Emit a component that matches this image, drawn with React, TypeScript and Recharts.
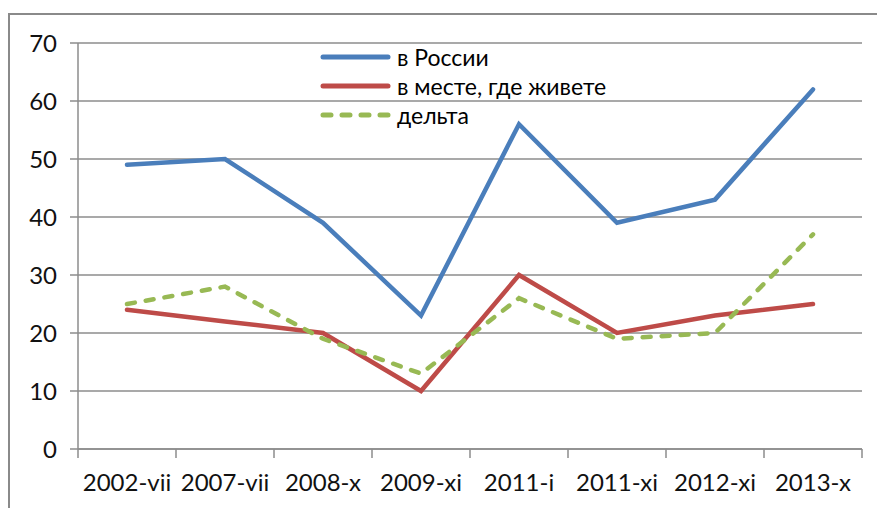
import { LineChart, Line, XAxis, YAxis, CartesianGrid } from 'recharts'

// survey waves
const periods = ['2002-vii', '2007-vii', '2008-x', '2009-xi', '2011-i', '2011-xi', '2012-xi', '2013-x']

// series values, %
const russia = [49, 50, 39, 23, 56, 39, 43, 62]
const local = [24, 22, 20, 10, 30, 20, 23, 25]
const delta = [25, 28, 19, 13, 26, 19, 20, 37]

const yTicks = [0, 10, 20, 30, 40, 50, 60, 70]

const data = periods.map((p, i) => ({
  period: p,
  russia: russia[i],
  local: local[i],
  delta: delta[i],
}))

const series = [
  { key: 'russia', name: 'в России', color: '#4a7ebb', dash: undefined },
  { key: 'local', name: 'в месте, где живете', color: '#be4b48', dash: undefined },
  { key: 'delta', name: 'дельта', color: '#98b954', dash: '8 11' },
]

const FONT = 'Lato, "Open Sans", sans-serif'
const AXIS = '#8c8c8c'
const X_TICK = 9
const X_MARGIN = 16

// excel style: tick marks sit between categories, label in the middle
const CategoryTick = (props: any) => {
  const { x, y, payload, index, visibleTicksCount } = props
  const half = payload.offset || 49
  const y1 = y - X_MARGIN - X_TICK
  const y2 = y - X_MARGIN
  const last = index === (visibleTicksCount ?? periods.length) - 1
  return (
    <g>
      <line x1={x - half} y1={y1} x2={x - half} y2={y2} stroke={AXIS} strokeWidth={1.5} />
      {last && <line x1={x + half} y1={y1} x2={x + half} y2={y2} stroke={AXIS} strokeWidth={1.5} />}
      <text x={x} y={y} dy="0.71em" textAnchor="middle" fill="#111" fontSize={24} fontFamily={FONT}>
        {payload.value}
      </text>
    </g>
  )
}

function LegendBox() {
  return (
    <div style={{ position: 'absolute', left: 319, top: 42, fontFamily: FONT, fontSize: 23, color: '#000' }}>
      {series.map(s => (
        <div key={s.key} style={{ display: 'flex', alignItems: 'center', height: 29 }}>
          <svg width={75} height={10} style={{ marginRight: 3 }}>
            <line
              x1={4}
              y1={5}
              x2={69}
              y2={5}
              stroke={s.color}
              strokeWidth={5}
              strokeLinecap="round"
              strokeDasharray={s.dash}
            />
          </svg>
          <span>{s.name}</span>
        </div>
      ))}
    </div>
  )
}

export default function App() {
  return (
    <div style={{ position: 'absolute', left: 0, top: 0, width: 877, height: 508, background: '#fff', overflow: 'hidden' }}>
      {/* outer chart frame, cut off at right and bottom */}
      <div
        style={{
          position: 'absolute',
          left: 8,
          top: 13,
          width: 900,
          height: 520,
          border: '2px solid #8a8a8a',
          boxSizing: 'border-box',
        }}
      />
      <div style={{ position: 'absolute', left: 0, top: 0 }}>
        <LineChart width={877} height={508} data={data} margin={{ top: 43, right: 15, bottom: 0, left: 0 }}>
          <CartesianGrid vertical={false} stroke={AXIS} strokeWidth={1.5} />
          <XAxis
            dataKey="period"
            scale="band"
            height={59}
            stroke={AXIS}
            strokeWidth={1.5}
            tickLine={false}
            tickSize={X_TICK}
            tickMargin={X_MARGIN}
            interval={0}
            tick={<CategoryTick />}
          />
          <YAxis
            width={78}
            domain={[0, 70]}
            ticks={yTicks}
            stroke={AXIS}
            strokeWidth={1.5}
            tickSize={8}
            tickMargin={13}
            tick={{ fill: '#111', fontSize: 24, fontFamily: FONT }}
          />
          {series.map(s => (
            <Line
              key={s.key}
              type="linear"
              dataKey={s.key}
              name={s.name}
              stroke={s.color}
              strokeWidth={4.5}
              strokeDasharray={s.dash}
              strokeLinecap="round"
              dot={false}
              isAnimationActive={false}
            />
          ))}
        </LineChart>
      </div>
      <LegendBox />
    </div>
  )
}
